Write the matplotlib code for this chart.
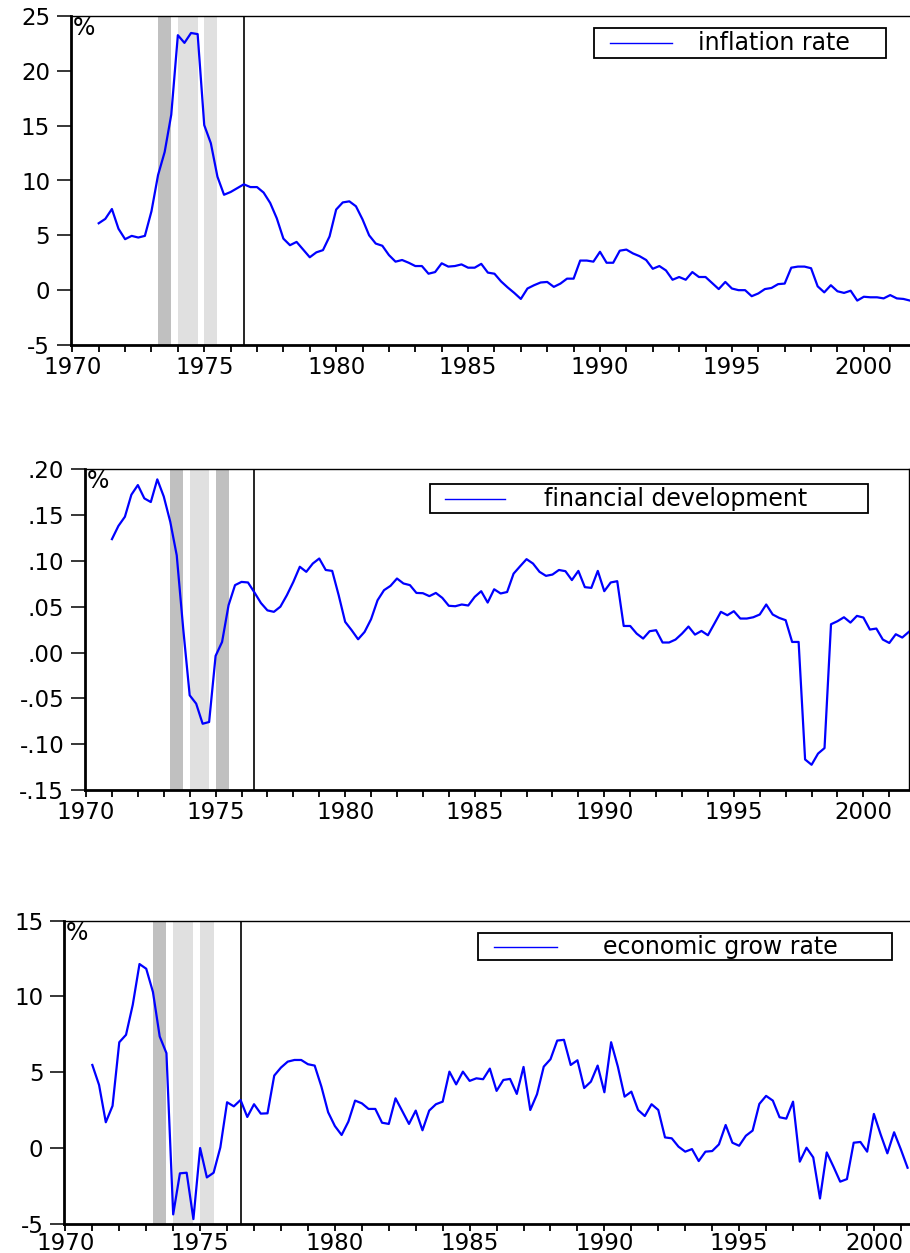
import numpy as np
import pandas as pd
import matplotlib
matplotlib.use("Agg")
import matplotlib.pyplot as plt
from matplotlib.patches import Rectangle
from matplotlib.lines import Line2D
from matplotlib.ticker import MultipleLocator, FixedLocator

# ---------------- data ----------------
inflation = [
    6.1, 6.5, 7.4, 5.6,
    4.65, 4.95, 4.8, 4.95,
    7.2, 10.5, 12.6, 16.0,
    23.25, 22.55, 23.45, 23.35,
    15.05, 13.4, 10.35, 8.7,
    8.95, 9.3, 9.65, 9.4,
    9.4, 8.9, 7.95, 6.55,
    4.7, 4.1, 4.4, 3.7,
    3.0, 3.45, 3.65, 4.9,
    7.35, 8.0, 8.1, 7.65,
    6.45, 5.0, 4.25, 4.05,
    3.2, 2.6, 2.75, 2.5,
    2.2, 2.2, 1.5, 1.65,
    2.45, 2.15, 2.2, 2.35,
    2.05, 2.05, 2.4, 1.6,
    1.5, 0.8, 0.25, -0.25,
    -0.8, 0.15, 0.45, 0.7,
    0.75, 0.3, 0.6, 1.05,
    1.05, 2.7, 2.7, 2.6,
    3.5, 2.5, 2.5, 3.6,
    3.7, 3.35, 3.1, 2.75,
    1.95, 2.2, 1.8, 0.95,
    1.2, 0.95, 1.65, 1.2,
    1.2, 0.65, 0.1, 0.75,
    0.15, 0.0, 0.0, -0.55,
    -0.3, 0.1, 0.2, 0.55,
    0.6, 2.05, 2.15, 2.15,
    2.0, 0.35, -0.2, 0.45,
    -0.1, -0.25, -0.05, -0.95,
    -0.6, -0.65, -0.65, -0.75,
    -0.45, -0.75, -0.8, -0.95,
]

financial = [
    0.1236, 0.138, 0.148, 0.172,
    0.1825, 0.168, 0.164, 0.1887,
    0.170, 0.1425, 0.106, 0.026,
    -0.0465, -0.0556, -0.0775, -0.0756,
    -0.0036, 0.0116, 0.0516, 0.0735,
    0.077, 0.0764, 0.0655, 0.054,
    0.046, 0.0444, 0.050, 0.0625,
    0.077, 0.0935, 0.088, 0.097,
    0.1025, 0.090, 0.089, 0.0625,
    0.0335, 0.0244, 0.0145, 0.0225,
    0.0364, 0.057, 0.068, 0.0727,
    0.0807, 0.0753, 0.0735, 0.065,
    0.0647, 0.0615, 0.065, 0.0596,
    0.051, 0.0505, 0.0524, 0.0513,
    0.0607, 0.0669, 0.0545, 0.069,
    0.0644, 0.066, 0.086, 0.094,
    0.1018, 0.097, 0.088, 0.0836,
    0.085, 0.090, 0.0887, 0.079,
    0.089, 0.0713, 0.0705, 0.089,
    0.0669, 0.0764, 0.0778, 0.029,
    0.029, 0.0207, 0.0153, 0.0233,
    0.0244, 0.011, 0.011, 0.0142,
    0.0207, 0.0284, 0.0196, 0.0236,
    0.0189, 0.0316, 0.0444, 0.0407,
    0.0451, 0.0371, 0.0371, 0.0385,
    0.0415, 0.0524, 0.0415, 0.0378,
    0.0353, 0.0116, 0.0116, -0.1164,
    -0.1222, -0.110, -0.104, 0.0309,
    0.0342, 0.0385, 0.0327, 0.040,
    0.0382, 0.0251, 0.0262, 0.0142,
    0.0105, 0.020, 0.0164, 0.0225,
]

growth = [
    5.48, 4.16, 1.7, 2.78,
    6.98, 7.47, 9.45, 12.14,
    11.83, 10.29, 7.36, 6.26,
    -4.38, -1.67, -1.63, -4.69,
    0.0, -1.94, -1.63, 0.04,
    3.02, 2.75, 3.17, 2.05,
    2.89, 2.27, 2.29, 4.78,
    5.31, 5.7, 5.81, 5.81,
    5.53, 5.44, 4.05, 2.36,
    1.45, 0.86, 1.74, 3.13,
    2.95, 2.58, 2.58, 1.67,
    1.59, 3.28, 2.44, 1.59,
    2.47, 1.17, 2.47, 2.89,
    3.06, 5.04, 4.2, 5.04,
    4.43, 4.6, 4.54, 5.24,
    3.77, 4.49, 4.56, 3.57,
    5.35, 2.51, 3.55, 5.37,
    5.86, 7.09, 7.14, 5.48,
    5.79, 3.96, 4.38, 5.44,
    3.68, 6.98, 5.37, 3.39,
    3.72, 2.51, 2.11, 2.89,
    2.51, 0.7, 0.64, 0.09,
    -0.24, -0.07, -0.86, -0.24,
    -0.2, 0.24, 1.52, 0.35,
    0.15, 0.81, 1.15, 2.91,
    3.44, 3.13, 2.03, 1.94,
    3.06, -0.9, 0.02, -0.62,
    -3.33, -0.29, -1.23, -2.22,
    -2.05, 0.35, 0.4, -0.24,
    2.25, 0.9, -0.35, 1.04,
    -0.09, -1.3,
]

labels = ["inflation rate", "financial development", "economic grow rate"]

# shaded periods (start, end) in years
bands1 = [(1973.25, 1973.75), (1974.0, 1974.75), (1975.0, 1975.5)]
bands2 = [(1973.25, 1973.75), (1974.0, 1974.75), (1975.0, 1975.5)]
bands3 = [(1973.25, 1973.75), (1974.0, 1974.75), (1975.0, 1975.5)]
band_shades1 = ["dark", "light", "light"]
band_shades2 = ["dark", "light", "dark"]
band_shades3 = ["dark", "light", "light"]
break_year = 1976.5

yticks1 = [-5, 0, 5, 10, 15, 20, 25]
yticklabels1 = ["-5", "0", "5", "10", "15", "20", "25"]
yticks2 = [-0.15, -0.10, -0.05, 0.0, 0.05, 0.10, 0.15, 0.20]
yticklabels2 = ["-.15", "-.10", "-.05", ".00", ".05", ".10", ".15", ".20"]
yticks3 = [-5, 0, 5, 10, 15]
yticklabels3 = ["-5", "0", "5", "10", "15"]


def quarter_years(start, end):
    q = pd.period_range(start, end, freq="Q")
    return np.array(q.year + (q.quarter - 1) / 4.0, dtype=float)


t1 = quarter_years("1971Q1", "2001Q4")
t2 = quarter_years("1971Q1", "2001Q4")
t3 = quarter_years("1971Q1", "2001Q2")

# ---------------- figure ----------------
W, H = 910, 1253
fig = plt.figure(figsize=(W / 100, H / 100), dpi=100)
fig.patch.set_facecolor("white")

SHADE = {"dark": "#c0c0c0", "light": "#e0e0e0"}
TICKFS = 16.5
LEGFS = 17
PCTFS = 17


def px_axes(l, t, r, b):
    return fig.add_axes([l / W, 1 - b / H, (r - l) / W, (b - t) / H])


def fig_xy(x, y):
    return (x / W, 1 - y / H)


def legend_box(ax, box, handle, text_c, label):
    x0, y0, x1, y1 = box
    bx, by = fig_xy(x0, y1)
    rect = Rectangle((bx, by), (x1 - x0) / W, (y1 - y0) / H,
                     transform=fig.transFigure, facecolor="white",
                     edgecolor="black", linewidth=1.3, zorder=10, clip_on=False)
    fig.add_artist(rect)
    hx0, hx1, hy = handle
    a = fig_xy(hx0, hy)
    b = fig_xy(hx1, hy)
    fig.add_artist(Line2D([a[0], b[0]], [a[1], b[1]], transform=fig.transFigure,
                          color="#0000ff", linewidth=1.0, zorder=11))
    tx, ty = fig_xy(*text_c)
    fig.text(tx, ty, label, ha="center", va="center", fontsize=LEGFS,
             color="black", zorder=12)


def style(ax, xlim, ylim, yticks, yticklabels, right_spine=False, xpad=3):
    ax.set_xlim(*xlim)
    ax.set_ylim(*ylim)
    ax.xaxis.set_major_locator(MultipleLocator(5))
    ax.xaxis.set_minor_locator(MultipleLocator(1))
    ax.xaxis.set_major_formatter(matplotlib.ticker.FuncFormatter(lambda v, p: f"{int(round(v))}"))
    ax.yaxis.set_major_locator(FixedLocator(yticks))
    ax.set_yticklabels(yticklabels)
    ax.tick_params(axis="x", which="both", direction="out", length=5, width=1.3,
                   labelsize=TICKFS, pad=xpad)
    ax.tick_params(axis="y", which="major", direction="out", length=10, width=1.1,
                   labelsize=TICKFS, pad=5)
    ax.tick_params(axis="y", which="minor", length=0)
    ax.spines["left"].set_linewidth(2.0)
    ax.spines["bottom"].set_linewidth(2.0)
    ax.spines["top"].set_linewidth(1.0)
    ax.spines["right"].set_linewidth(1.0)
    ax.spines["right"].set_visible(right_spine)


def draw_panel(ax, t, y, bands, shades):
    for (a, b), s in zip(bands, shades):
        ax.axvspan(a, b, color=SHADE[s], lw=0, zorder=0)
    ax.axvline(break_year, color="black", lw=1.2, zorder=1)
    ax.plot(t, y, color="#0000ff", lw=1.6, zorder=3)


# Panel 1
ax1 = px_axes(71, 16, 910, 345)
draw_panel(ax1, t1, inflation, bands1, band_shades1)
style(ax1, (1969.95, 2001.75), (-5, 25), yticks1, yticklabels1)
ax1.text(*fig_xy(73, 16), "%", transform=fig.transFigure, ha="left", va="top",
         fontsize=PCTFS)
legend_box(ax1, (594, 28, 886, 57.7), (610, 672, 43), (774, 43), labels[0])

# Panel 2
ax2 = px_axes(85, 469, 909, 790.3)
draw_panel(ax2, t2, financial, bands2, band_shades2)
style(ax2, (1969.96, 2001.76), (-0.15, 0.20), yticks2, yticklabels2, right_spine=True)
ax2.text(*fig_xy(87, 469), "%", transform=fig.transFigure, ha="left", va="top",
         fontsize=PCTFS)
legend_box(ax2, (430, 484, 868, 513), (445, 505, 499), (676, 499), labels[1])

# Panel 3
ax3 = px_axes(64.3, 920.7, 910, 1223.8)
draw_panel(ax3, t3, growth, bands3, band_shades3)
style(ax3, (1969.96, 2001.34), (-5, 15), yticks3, yticklabels3, xpad=1)
ax3.text(*fig_xy(66, 921), "%", transform=fig.transFigure, ha="left", va="top",
         fontsize=PCTFS)
legend_box(ax3, (478, 933, 891.7, 960), (494, 557, 946.5), (720, 947), labels[2])

fig.savefig("out.png", dpi=100, facecolor="white")
